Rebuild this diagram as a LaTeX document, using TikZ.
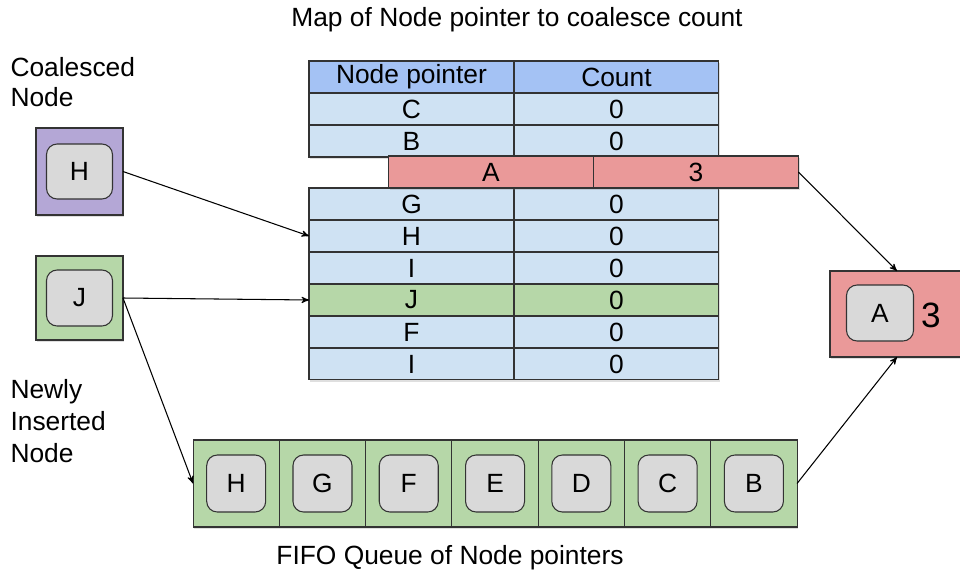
\documentclass[tikz,border=0pt]{standalone}
\usepackage{fontspec}
\setmainfont{Liberation Sans}
\usetikzlibrary{arrows,shapes,positioning,shadows}

\definecolor{hdrblue}{HTML}{A4C2F4}
\definecolor{rowblue}{HTML}{CFE2F3}
\definecolor{newgreen}{HTML}{B6D7A8}
\definecolor{hitred}{HTML}{EA9999}
\definecolor{coalpurple}{HTML}{B4A7D6}
\definecolor{slotgray}{HTML}{D9D9D9}
\definecolor{edgegray}{HTML}{333333}

\begin{document}
\begin{tikzpicture}
            [x=0.02cm,y=-0.02cm,>=stealth',semithick,
             font=\fontsize{15}{17}\selectfont,
             shade/.style={drop shadow={shadow xshift=0.8pt,shadow yshift=-1.2pt,opacity=0.25}},
             cell/.style={draw=edgegray,fill=rowblue,minimum width=4.1cm,minimum height=0.64cm,
                          inner sep=0,outer sep=0,shade},
             hdr/.style={cell,fill=hdrblue},
             hit/.style={cell,fill=hitred},
             fresh/.style={cell,fill=newgreen},
             holder/.style={draw=edgegray,inner sep=0,outer sep=0,shade},
             qcell/.style={holder,fill=newgreen,minimum width=1.726cm,minimum height=1.74cm},
             slot/.style={draw=edgegray,fill=slotgray,rounded corners=6pt,inner sep=0,
                          minimum width=1.18cm,minimum height=1.14cm},
             ptr/.style={->,line width=0.6pt}]

            \useasboundingbox (0,0) rectangle (960,575);

            % captions
            \node (title) at (517,20) {Map of Node pointer to coalesce count};
            \node (fifo) at (450,558) {FIFO Queue of Node pointers};
            \node (lblco) [anchor=north west,align=left,inner sep=0] at (10,57) {Coalesced\\Node};
            \node (lblnew) [anchor=north west,align=left,inner sep=0,
                            font=\fontsize{15}{18.2}\selectfont] at (10,379) {Newly\\Inserted\\Node};

            % map, upper part
            \node (hk) [hdr] at (411.5,77) {Node pointer};
            \node (hv) [hdr,right=0pt of hk] {Count};
            \node (ck) [cell,below=0pt of hk] {C};
            \node (cv) [cell,right=0pt of ck] {0};
            \node (bk) [cell,below=0pt of ck] {B};
            \node (bv) [cell,right=0pt of bk] {0};

            % map, lower part
            \node (gk) [cell] at (411.5,204) {G};
            \node (gv) [cell,right=0pt of gk] {0};
            \node (rH) [cell,below=0pt of gk] {H};
            \node (hcnt) [cell,right=0pt of rH] {0};
            \node (ik) [cell,below=0pt of rH] {I};
            \node (iv) [cell,right=0pt of ik] {0};
            \node (rJ) [fresh,below=0pt of ik] {J};
            \node (jv) [fresh,right=0pt of rJ] {0};
            \node (fk) [cell,below=0pt of rJ] {F};
            \node (fv) [cell,right=0pt of fk] {0};
            \node (i2k) [cell,below=0pt of fk] {I};
            \node (i2v) [cell,right=0pt of i2k] {0};

            % entry taken out of the map
            \node (ak) [hit] at (491,172) {A};
            \node (av) [hit,right=0pt of ak] {3};

            % coalesced and new node
            \node (hbox) [holder,fill=coalpurple,minimum width=1.74cm,minimum height=1.74cm] at (79.5,171.5) {};
            \node (hslot) [slot,minimum width=1.32cm,minimum height=1.1cm] at (hbox) {H};
            \node (jbox) [holder,fill=newgreen,minimum width=1.74cm,minimum height=1.68cm] at (79.5,298) {};
            \node (jslot) [slot,minimum width=1.32cm,minimum height=1.12cm] at (jbox) {J};

            % result
            \node (abox) [holder,fill=hitred,minimum width=2.68cm,minimum height=1.72cm] at (897,314) {};
            \node (aslot) [slot,minimum width=1.34cm,minimum height=1.12cm] at (880,313) {A};
            \node (acnt) [font=\fontsize{20}{22}\selectfont] at (931,315) {3};

            % queue
            \node (q1) [qcell] at (236.2,483.5) {};
            \node (q2) [qcell,right=0pt of q1] {};
            \node (q3) [qcell,right=0pt of q2] {};
            \node (q4) [qcell,right=0pt of q3] {};
            \node (q5) [qcell,right=0pt of q4] {};
            \node (q6) [qcell,right=0pt of q5] {};
            \node (q7) [qcell,right=0pt of q6] {};
            \node (s1) [slot] at (q1) {H};
            \node (s2) [slot] at (q2) {G};
            \node (s3) [slot] at (q3) {F};
            \node (s4) [slot] at (q4) {E};
            \node (s5) [slot] at (q5) {D};
            \node (s6) [slot] at (q6) {C};
            \node (s7) [slot] at (q7) {B};

            \path[ptr] (hbox.east) edge (rH.west);
            \path[ptr] (jbox.east) edge (rJ.west);
            \path[ptr] (jbox.east) edge (q1.west);
            \path[ptr] (av.east) edge (abox.north);
            \path[ptr] (q7.east) edge (abox.south);
        \end{tikzpicture}
\end{document}
